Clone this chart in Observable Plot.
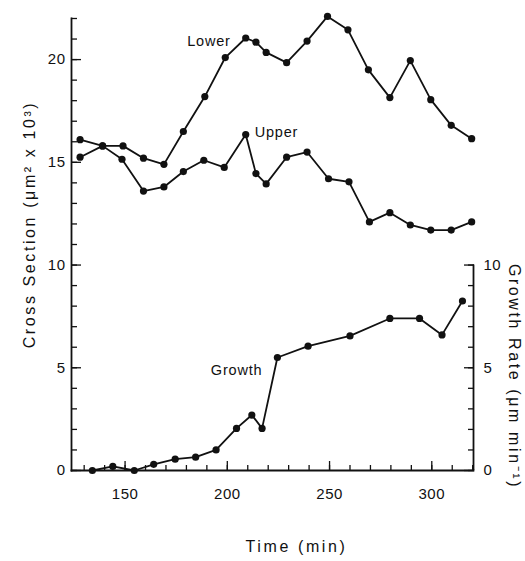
<!DOCTYPE html>
<html><head><meta charset="utf-8">
<script src="https://cdn.jsdelivr.net/npm/d3@7"></script>
<script src="https://cdn.jsdelivr.net/npm/@observablehq/plot@0.6"></script>
<style>
body{margin:0;background:#fff}
svg{font-family:"Liberation Sans",Arial,sans-serif}
</style>
</head><body><div id="chart"></div>
<script>
// Cross section, Lower (µm² x 10³)
const lowerTime = [128, 139, 149, 159, 169, 178.5, 189, 199, 209, 214, 219, 229, 239, 249, 259, 269, 279.5, 289.5, 299.5, 309.5, 319.5];
const lowerVal  = [15.25, 15.8, 15.8, 15.2, 14.9, 16.5, 18.2, 20.1, 21.05, 20.85, 20.35, 19.85, 20.9, 22.1, 21.45, 19.5, 18.15, 19.95, 18.05, 16.8, 16.15];
// Cross section, Upper
const upperTime = [128, 139, 148.5, 159, 169, 178.5, 188.5, 198.5, 209, 214, 219, 229, 239, 249.5, 259.5, 269.5, 279.5, 289.5, 299.5, 309.5, 319.5];
const upperVal  = [16.1, 15.8, 15.15, 13.6, 13.8, 14.55, 15.1, 14.75, 16.35, 14.45, 13.95, 15.25, 15.5, 14.2, 14.05, 12.1, 12.55, 11.95, 11.7, 11.7, 12.1];
// Growth rate (µm min⁻¹)
const growthTime = [134, 144, 154.5, 164, 174.5, 184.5, 194.5, 204.5, 212, 217, 224.5, 239.5, 260, 279.5, 294, 305, 315];
const growthVal  = [0, 0.2, 0, 0.3, 0.55, 0.65, 1.0, 2.05, 2.7, 2.05, 5.5, 6.05, 6.55, 7.4, 7.4, 6.6, 8.25];

const leftTicks = [0, 5, 10, 15, 20];
const rightTicks = [0, 5, 10];
const timeTicks = [150, 200, 250, 300];
const seriesNames = ["Lower", "Upper", "Growth"];
const labelIndex = [8, 8, 10];
const xTitle = "Time (min)";
const yTitle = "Cross Section (μm² x 10³)";
const y2Title = "Growth Rate (μm min⁻¹)";

const timeDomain = [123.8, 320.4];
const yDomain = [0, 22];

const toRows = (ts, vs) => ts.map((t, i) => ({t, v: vs[i]}));
const lower = toRows(lowerTime, lowerVal);
const upper = toRows(upperTime, upperVal);
const growth = toRows(growthTime, growthVal);
const series = [lower, upper, growth];
const labels = seriesNames.map((name, k) => ({name, ...series[k][labelIndex[k]]}));

const blank = () => "";
const lineOpts = {x: "t", y: "v", stroke: "#111", strokeWidth: 1.8};
const dotOpts = {x: "t", y: "v", fill: "#111", r: 3.6};

const chart = Plot.plot({
  width: 525, height: 561,
  marginLeft: 71, marginRight: 52, marginTop: 18, marginBottom: 91,
  x: {domain: timeDomain},
  y: {domain: yDomain},
  style: {fontFamily: '"Liberation Sans", Arial, sans-serif', fontSize: "15px", color: "#111", background: "#fff"},
  marks: [
    Plot.frame({anchor: "left", stroke: "#111", strokeWidth: 1.8}),
    Plot.frame({anchor: "bottom", stroke: "#111", strokeWidth: 1.8}),
    Plot.ruleX([timeDomain[1]], {y1: rightTicks[0], y2: rightTicks[rightTicks.length - 1], stroke: "#111", strokeWidth: 1.8}),
    // minor / major ticks (inward)
    Plot.axisY(d3.range(0, 23), {anchor: "left", tickSize: -6, tickFormat: blank, label: null, strokeWidth: 1.3}),
    Plot.axisY(leftTicks, {anchor: "left", tickSize: -10, tickFormat: blank, label: null, strokeWidth: 1.3}),
    Plot.axisY(leftTicks, {anchor: "left", tickSize: 0, tickPadding: 6, label: null, fontSize: 15}),
    Plot.axisY(d3.range(0, 11), {anchor: "right", tickSize: -6, tickFormat: blank, label: null, strokeWidth: 1.3}),
    Plot.axisY(rightTicks, {anchor: "right", tickSize: -10, tickFormat: blank, label: null, strokeWidth: 1.3}),
    Plot.axisY(rightTicks, {anchor: "right", tickSize: 0, tickPadding: 10, label: null, fontSize: 15}),
    Plot.axisX(d3.range(130, 321, 10), {anchor: "bottom", tickSize: -5, tickFormat: blank, label: null, strokeWidth: 1.3}),
    Plot.axisX(timeTicks, {anchor: "bottom", tickSize: -9, tickFormat: blank, label: null, strokeWidth: 1.3}),
    Plot.axisX(timeTicks, {anchor: "bottom", tickSize: 0, tickPadding: 18, label: null, fontSize: 15}),
    // series
    ...series.map(s => Plot.line(s, lineOpts)),
    ...series.map(s => Plot.dot(s, dotOpts)),
    // series labels
    Plot.text([labels[0]], {x: "t", y: "v", text: "name", textAnchor: "end", dx: -15, dy: 3, fontSize: 14.5}),
    Plot.text([labels[1]], {x: "t", y: "v", text: "name", textAnchor: "start", dx: 9, dy: -2, fontSize: 14.5}),
    Plot.text([labels[2]], {x: "t", y: "v", text: "name", textAnchor: "end", dx: -15, dy: 13, fontSize: 14.5}),
    // axis titles
    Plot.text([yTitle], {frameAnchor: "left", textAnchor: "middle", rotate: -90, dx: -42, dy: -20, fontSize: 16}),
    Plot.text([y2Title], {frameAnchor: "right", textAnchor: "middle", rotate: 90, dx: 41, dy: 132, fontSize: 16}),
    Plot.text([xTitle], {frameAnchor: "bottom", textAnchor: "middle", dx: 24, dy: 81, fontSize: 16})
  ]
});

d3.select(chart).selectAll("text").each(function() {
  const s = this.textContent;
  if (s === yTitle || s === y2Title || s === xTitle) d3.select(this).attr("letter-spacing", "2.6px");
  else if (seriesNames.includes(s)) d3.select(this).attr("letter-spacing", "0.8px");
  else d3.select(this).attr("letter-spacing", "0.5px");
});
document.getElementById("chart").appendChild(chart);
</script>
</body></html>
